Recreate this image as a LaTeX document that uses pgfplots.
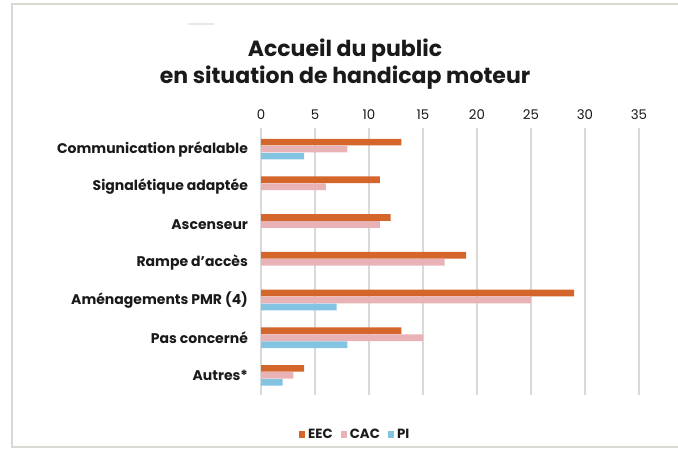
\documentclass[border=0pt]{standalone}
\usepackage{fontspec}
\setmainfont{Poppins}
\usepackage{pgfplots}
\pgfplotsset{compat=1.18}
\definecolor{eec}{HTML}{D4662C}
\definecolor{cac}{HTML}{E8B2B7}
\definecolor{pi}{HTML}{82C4E2}
\definecolor{gridc}{HTML}{D9D9D9}
\definecolor{framec}{HTML}{DAD8D2}
\definecolor{txt}{HTML}{1A1A1A}
\begin{document}
\begin{tikzpicture}[x=0.75pt, y=0.75pt]
\path[use as bounding box] (0,0) rectangle (678,450);
% frame
\draw[framec, line width=2.2pt] (680,446) -- (12,446) -- (12,3) -- (680,3);
\draw[framec!60, line width=1.2pt] (188,426) -- (214,426);
% title
\node[txt, align=center, font=\bfseries\fontsize{16.5}{20.5}\selectfont] at (345,386) {Accueil du public\\en situation de handicap moteur};
\begin{axis}[
  at={(195.75pt,41.25pt)}, anchor=south west,
  scale only axis, width=283.5pt, height=200.25pt,
  xbar, bar width=5pt,
  xmin=0, xmax=35, ymin=-0.52, ymax=6.56,
  xtick={0,5,...,35},
  xticklabel pos=upper,
  ytick={0,...,6},
  yticklabels={Autres*, Pas concerné, Aménagements PMR (4), Rampe d’accès, Ascenseur, Signalétique adaptée, Communication préalable},
  axis line style={draw=none},
  major tick style={draw=none},
  xmajorgrids, major grid style={gridc, line width=1.1pt},
  /pgf/number format/assume math mode=true,
  xticklabel style={font=\fontsize{10}{11}\selectfont, text=txt, yshift=3pt},
  yticklabel style={font=\bfseries\fontsize{10.5}{11}\selectfont, text=txt, xshift=-2pt},
  legend style={at={(0.25,-0.105)}, anchor=north, draw=none, fill=none,
    legend columns=3, font=\bfseries\fontsize{10}{11}\selectfont, text=txt,
    /tikz/every even column/.append style={column sep=4pt}},
  legend image code/.code={\fill[#1] (0pt,-2.4pt) rectangle (4.8pt,2.4pt);},
]
\addplot[fill=eec, draw=none, bar shift=5.25pt] coordinates {
  (13,6) (11,5) (12,4) (19,3) (29,2) (13,1) (4,0)};
\addplot[fill=cac, draw=none, bar shift=0pt] coordinates {
  (8,6) (6,5) (11,4) (17,3) (25,2) (15,1) (3,0)};
\addplot[fill=pi, draw=none, bar shift=-5.25pt] coordinates {
  (4,6) (7,2) (8,1) (2,0)};
\legend{EEC, CAC, PI}
\end{axis}
\end{tikzpicture}
\end{document}
